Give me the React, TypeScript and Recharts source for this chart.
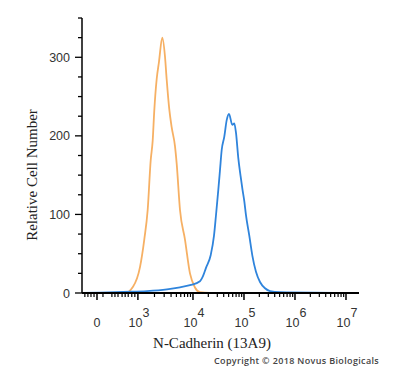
import { Label, Line, LineChart, XAxis, YAxis } from "recharts";

// histogram positions are in display decades (logicle-like scale), counts are cells per channel
const isotypePos = [1.824, 2.5, 2.667, 2.824, 2.961, 3.045, 3.112, 3.171, 3.21, 3.241, 3.288, 3.333, 3.398, 3.451, 3.484, 3.535, 3.582, 3.647, 3.68, 3.745, 3.843, 3.941, 4.039, 4.137, 4.33, 5.5, 7.255];
const isotypeCount = [0, 0, 0, 8, 33, 68, 106, 169, 194, 232, 272, 294, 325, 301, 272, 234, 211, 187, 165, 106, 68, 25, 7, 1, 0, 0, 0];

const cadherinPos = [1.824, 2.176, 2.627, 3.098, 3.49, 3.745, 3.941, 4.137, 4.2, 4.255, 4.347, 4.412, 4.451, 4.496, 4.529, 4.563, 4.614, 4.661, 4.706, 4.771, 4.81, 4.843, 4.888, 4.935, 4.97, 5.006, 5.039, 5.104, 5.163, 5.235, 5.314, 5.412, 5.51, 5.706, 7.255];
const cadherinCount = [0, 0.5, 1.5, 2.5, 4.7, 7.3, 10, 15, 22, 32, 48, 73, 99, 131, 156, 182, 199, 220, 228, 214, 216, 204, 172, 148, 132, 117, 99, 73, 48, 27, 14, 6, 2.5, 1, 0];

const xDomain = [1.824, 7.255];
const xMajorTicks = [2.118, 2.92, 4, 5, 6, 7];
const xMajorLabels = ["0", "3", "4", "5", "6", "7"];
const xLinearMinor = [1.88, 1.94, 2.0, 2.06, 2.235, 2.41, 2.47, 2.53, 2.61, 2.67, 2.73, 2.8, 2.86];
const yTicks = [0, 25, 50, 75, 100, 125, 150, 175, 200, 225, 250, 275, 300, 325, 350];
const yLabels = [0, 100, 200, 300];

const xMinorTicks = [...xLinearMinor];
for (let n = 3; n < 7; n++) {
  const start = n === 3 ? 2.92 : n;
  for (let k = 2; k <= 9; k++) xMinorTicks.push(start + (n + 1 - start) * Math.log10(k));
}
const xTicks = [...xMajorTicks, ...xMinorTicks].sort((a, b) => a - b);

const isotype = isotypePos.map((d, i) => ({ d, v: isotypeCount[i] }));
const cadherin = cadherinPos.map((d, i) => ({ d, v: cadherinCount[i] }));

const tickFont = "'Liberation Sans', Arial, sans-serif";
const titleFont = "'Liberation Serif', 'Times New Roman', serif";

function XTick(props: any) {
  const { x, y, payload } = props;
  const i = xMajorTicks.findIndex((t) => Math.abs(t - payload.value) < 1e-6);
  if (i < 0) return <line x1={x} x2={x} y1={y} y2={y + 4} stroke="#000" strokeWidth={1.2} />;
  const lab = xMajorLabels[i];
  return (
    <g>
      <line x1={x} x2={x} y1={y} y2={y + 7} stroke="#000" strokeWidth={1.5} />
      {i === 0 ? (
        <text x={x} y={y + 34} textAnchor="middle" fontSize={12.5} fill="#333" fontFamily={tickFont}>0</text>
      ) : (
        <text x={x + 1} y={y + 34} textAnchor="middle" fontSize={12.5} fill="#333" fontFamily={tickFont}>
          10<tspan dy={-10}>{lab}</tspan>
        </text>
      )}
    </g>
  );
}

function YTick(props: any) {
  const { x, y, payload } = props;
  const major = yLabels.includes(payload.value);
  return (
    <g>
      <line x1={x} x2={x - (major ? 7 : 4)} y1={y} y2={y} stroke="#000" strokeWidth={1.3} />
      {major && (
        <text x={x - 12} y={y + 4.5} textAnchor="end" fontSize={12.5} fill="#333" fontFamily={tickFont}>
          {payload.value}
        </text>
      )}
    </g>
  );
}

export default function App() {
  return (
    <div style={{ position: "absolute", left: 0, top: 0, width: 400, height: 378, background: "#fff" }}>
      <LineChart width={400} height={378} margin={{ top: 18, right: 41, bottom: 55, left: 0 }}>
        <XAxis
          type="number"
          dataKey="d"
          domain={xDomain}
          ticks={xTicks}
          interval={0}
          allowDataOverflow
          tickSize={0}
          tickMargin={0}
          tickLine={false}
          tick={<XTick />}
          axisLine={{ stroke: "#000", strokeWidth: 2 }}
          height={30}
        >
          <Label
            content={() => (
              <text x={212} y={348} textAnchor="middle" fontSize={15} fill="#222" fontFamily={titleFont}>
                N-Cadherin (13A9)
              </text>
            )}
          />
        </XAxis>
        <YAxis
          type="number"
          domain={[0, 350]}
          ticks={yTicks}
          interval={0}
          allowDataOverflow
          tickSize={0}
          tickMargin={0}
          tickLine={false}
          tick={<YTick />}
          axisLine={{ stroke: "#000", strokeWidth: 1.5 }}
          width={82}
        >
          <Label
            content={() => (
              <text x={37} y={175} transform="rotate(-90 37 175)" textAnchor="middle" fontSize={15} fill="#222" fontFamily={titleFont}>
                Relative Cell Number
              </text>
            )}
          />
        </YAxis>
        <Line data={isotype} dataKey="v" type="monotone" stroke="#f6b064" strokeWidth={1.8} dot={false} isAnimationActive={false} />
        <Line data={cadherin} dataKey="v" type="monotone" stroke="#2f84dc" strokeWidth={1.8} dot={false} isAnimationActive={false} />
      </LineChart>
      <div
        style={{
          position: "absolute",
          left: 214,
          top: 354,
          fontFamily: "'Open Sans', sans-serif",
          fontSize: 9,
          fontWeight: 600,
          letterSpacing: 0.35,
          color: "#444",
          whiteSpace: "nowrap",
        }}
      >
        Copyright © 2018 Novus Biologicals
      </div>
    </div>
  );
}
